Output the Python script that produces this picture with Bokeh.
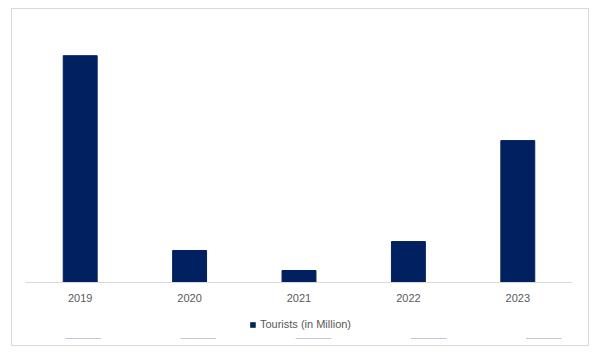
from bokeh.plotting import figure
from bokeh.layouts import column
from bokeh.models import Range1d, FactorRange, Legend, LegendItem, ColumnDataSource
from bokeh.embed import file_html
from bokeh.resources import INLINE

years = ["2019", "2020", "2021", "2022", "2023"]
tourists = [18.0, 2.54, 0.95, 3.25, 11.26]
series_name = "Tourists (in Million)"
bar_color = "#002060"

src = ColumnDataSource(dict(year=years, val=tourists))

# main chart
p = figure(frame_width=547, frame_height=252,
           output_backend="svg", toolbar_location=None,
           x_range=FactorRange(factors=years, range_padding=0), y_range=Range1d(0, 20),
           min_border_left=13, min_border_right=16, min_border_top=21, min_border_bottom=28)
p.outline_line_color = None
p.background_fill_color = "white"
p.border_fill_color = "white"

r = p.vbar(x="year", top="val", width=0.31, source=src, color=bar_color)

p.yaxis.visible = False
p.xgrid.visible = False
p.ygrid.visible = False
p.xaxis.axis_line_color = "#d9d9d9"
p.xaxis.major_tick_line_color = None
p.xaxis.minor_tick_line_color = None
p.xaxis.major_label_standoff = 5
p.xaxis.major_label_text_font = "Liberation Sans"
p.xaxis.major_label_text_font_size = "11px"
p.xaxis.major_label_text_color = "#595959"

# legend strip (its proxy bars fall far outside its own view)
q = figure(frame_width=576, frame_height=28,
           output_backend="svg", toolbar_location=None,
           x_range=FactorRange(factors=years, range_padding=0), y_range=Range1d(10000, 20000),
           x_axis_type=None, y_axis_type=None,
           min_border=0, min_border_bottom=7)
q.outline_line_color = None
q.background_fill_color = "white"
q.border_fill_color = "white"
q.xgrid.visible = False
q.ygrid.visible = False
r2 = q.vbar(x="year", top="val", width=0.31, source=src,
            fill_color=bar_color, line_color=None)

legend = Legend(items=[LegendItem(label=series_name, renderers=[r2])],
                orientation="horizontal", location="center",
                padding=0, margin=0,
                glyph_width=7, glyph_height=7, label_standoff=4,
                label_text_font="Liberation Sans", label_text_font_size="11px",
                label_text_color="#595959", border_line_color=None,
                background_fill_alpha=0)
q.add_layout(legend, "center")

layout = column(p, q, spacing=0)
layout.margin = (8, 0, 0, 11)
layout.styles = {"border": "1px solid #d9d9d9"}

open("out.html", "w").write(file_html(layout, INLINE))
